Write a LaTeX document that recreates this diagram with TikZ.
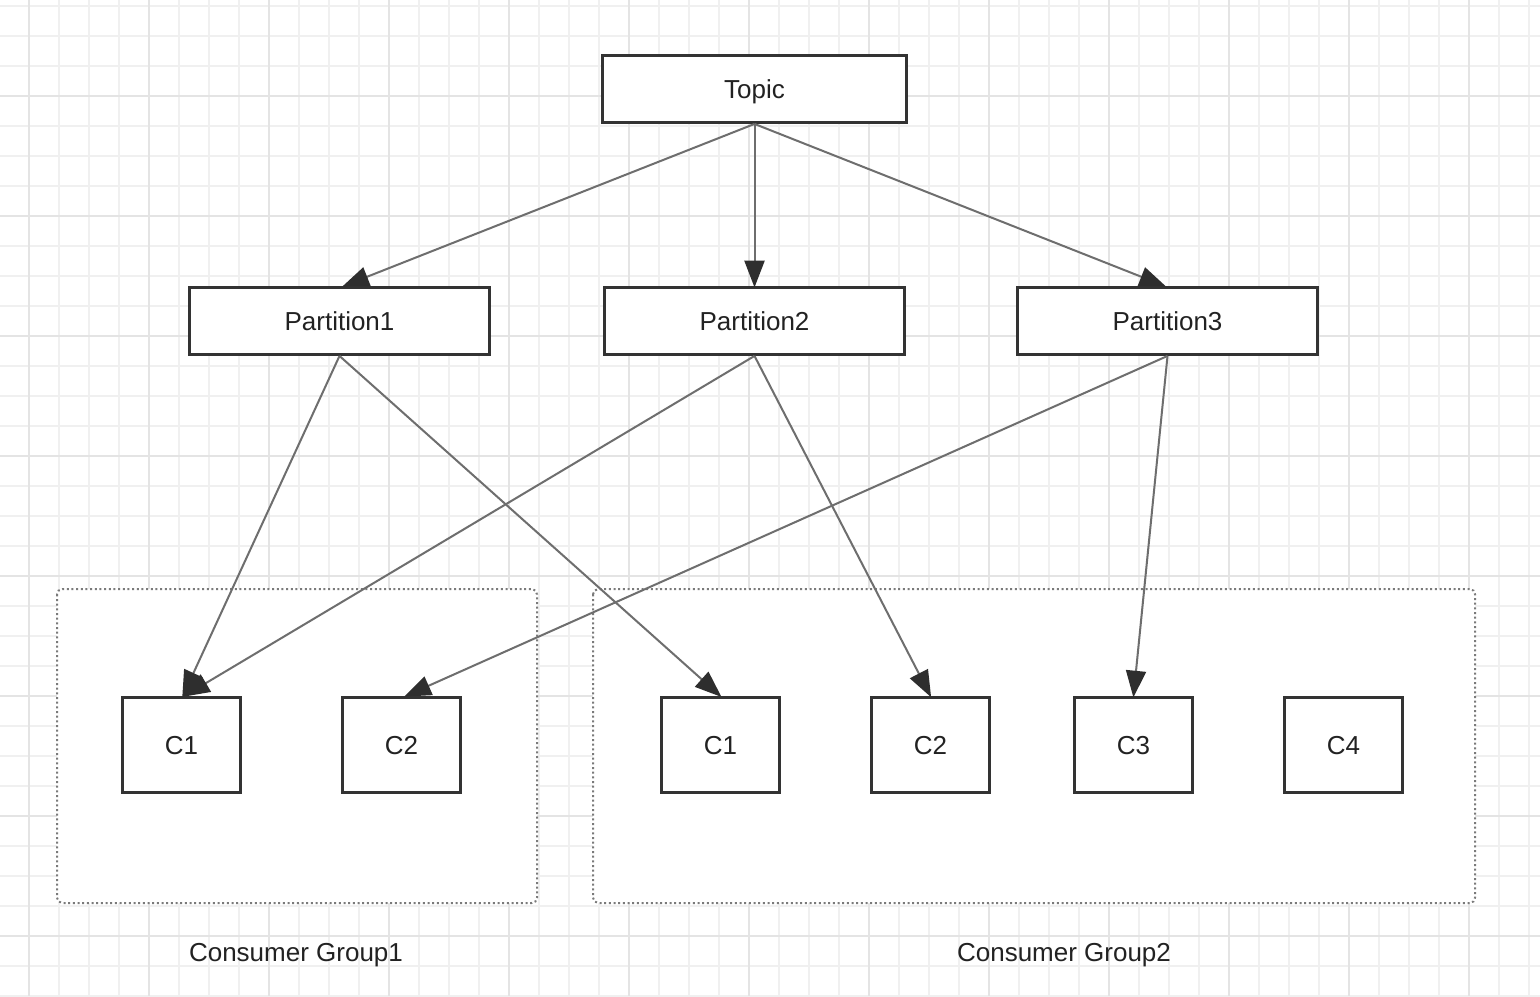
\documentclass[tikz,border=0pt]{standalone}
\usepackage{fontspec}
\setmainfont{Liberation Sans}
\usetikzlibrary{arrows.meta}
\definecolor{minorgrid}{HTML}{F0F0F0}
\definecolor{majorgrid}{HTML}{E4E4E4}
\definecolor{boxline}{HTML}{333333}
\definecolor{arrowline}{HTML}{6E6E6E}
\definecolor{tipcol}{HTML}{2E2E2E}
\definecolor{txt}{HTML}{222222}
\definecolor{grpline}{HTML}{7A7A7A}
\tikzset{
  box/.style={draw=boxline, line width=2.4pt, fill=white, inner sep=0pt, font=\fontsize{19.5}{22}\selectfont, text=txt, text height=14pt, text depth=0pt},
  wide/.style={box, minimum width=224.5pt, minimum height=50pt},
  topbox/.style={box, minimum width=228pt, minimum height=50pt},
  cbox/.style={box, minimum width=88.5pt, minimum height=71pt},
  link/.style={draw=arrowline, line width=1.5pt, -{Triangle[length=20pt,width=15pt,fill=tipcol,color=tipcol]}, shorten >=-1pt},
  grp/.style={draw=grpline, line width=1.5pt, dotted, rounded corners=4pt},
  lbl/.style={font=\fontsize{19.5}{22}\selectfont, text=txt, inner sep=0pt, text height=14pt, text depth=0pt},
}
\begin{document}
\begin{tikzpicture}[x=0.75pt,y=-0.75pt]
\fill[white] (0,0) rectangle (1540,996);
\useasboundingbox (0,0) rectangle (1540,996);
% grid
\foreach \i in {0,...,51} {
  \draw[minorgrid, line width=1.5pt] ({28.7+30*\i},0) -- ({28.7+30*\i},996);
}
\foreach \j in {0,...,33} {
  \draw[minorgrid, line width=1.5pt] (0,{6+30*\j}) -- (1540,{6+30*\j});
}
\foreach \i in {0,...,12} {
  \draw[majorgrid, line width=1.5pt] ({28.7+120*\i},0) -- ({28.7+120*\i},996);
}
\foreach \j in {0,...,8} {
  \draw[majorgrid, line width=1.5pt] (0,{-24+120*\j}) -- (1540,{-24+120*\j});
}
% groups
\draw[grp, fill=white] (57,589) rectangle (537,903);
\draw[grp, fill=white] (593,589) rectangle (1475,903);
\node[lbl] (g1) at (296,952) {Consumer Group1};
\node[lbl] (g2) at (1064,952) {Consumer Group2};
% nodes
\node[topbox] (t) at (754.5,89) {Topic};
\node[wide] (p1) at (339.5,321) {Partition1};
\node[wide] (p2) at (754.5,321) {Partition2};
\node[wide] (p3) at (1167.5,321) {Partition3};
\node[cbox] (a1) at (181.5,745) {C1};
\node[cbox] (a2) at (401.5,745) {C2};
\node[cbox] (b1) at (720.5,745) {C1};
\node[cbox] (b2) at (930.5,745) {C2};
\node[cbox] (b3) at (1133.5,745) {C3};
\node[cbox] (b4) at (1343.5,745) {C4};
% arrows
\draw[link] (t.south) -- ([xshift=3pt]p1.north);
\draw[link] (t.south) -- (p2.north);
\draw[link] (t.south) -- ([xshift=-2pt]p3.north);
\draw[link] (p1.south) -- ([xshift=1pt]a1.north);
\draw[link] (p1.south) -- (b1.north);
\draw[link] (p2.south) -- ([xshift=2pt]a1.north);
\draw[link] (p2.south) -- (b2.north);
\draw[link] (p3.south) -- ([xshift=3pt]a2.north);
\draw[link] (p3.south) -- (b3.north);
\end{tikzpicture}
\end{document}
